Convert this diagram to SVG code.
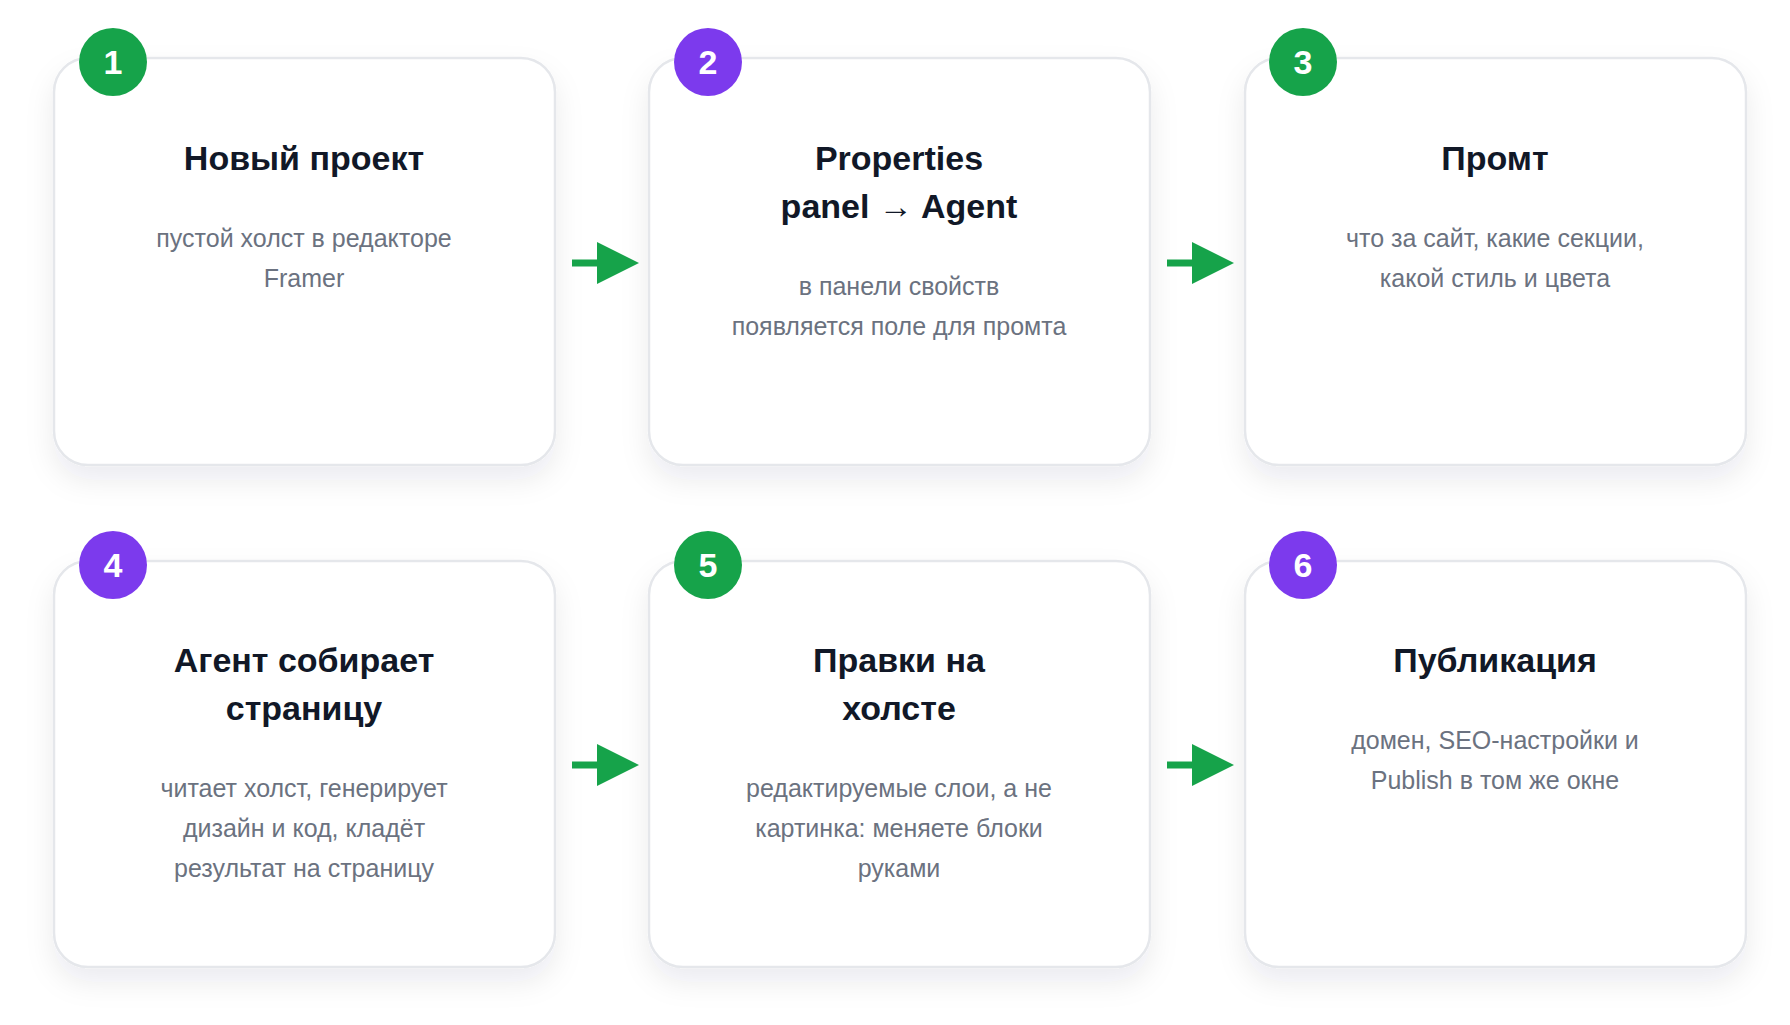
<svg xmlns="http://www.w3.org/2000/svg" width="1790" height="1025" viewBox="0 0 1790 1025">
<style>
.card{fill:#fff;stroke:#e5e7eb;stroke-width:2.5}
.t{font-family:"Liberation Sans",Arial,sans-serif;font-weight:bold;font-size:34px;fill:#111827;text-anchor:middle}
.d{font-family:"Liberation Sans",Arial,sans-serif;font-size:25px;fill:#6b7280;text-anchor:middle}
.n{font-family:"Liberation Sans",Arial,sans-serif;font-weight:bold;font-size:34px;fill:#fff;text-anchor:middle}
.g{fill:#16a34a}.p{fill:#7c3aed}
.ar{stroke:#16a34a;stroke-width:7;fill:none}
</style>
<defs>
<filter id="sh" x="-20%" y="-20%" width="140%" height="150%">
<feDropShadow dx="0" dy="14" stdDeviation="14" flood-color="#1f2937" flood-opacity="0.08"/>
</filter>
<marker id="ah" viewBox="0 0 10 10" refX="0" refY="5" markerWidth="6" markerHeight="6" markerUnits="strokeWidth" orient="auto"><path d="M0,0L10,5L0,10z" fill="#16a34a"/></marker>
</defs>
<rect width="1790" height="1025" fill="#fff"/>
<g id="n1"><rect class="card" filter="url(#sh)" x="54" y="58" width="501" height="407" rx="34"/><circle class="g" cx="113" cy="62" r="34"/><text class="n" x="113" y="74">1</text>
<text class="t" x="304" y="170">Новый проект</text>
<text class="d" x="304" y="247">пустой холст в редакторе</text><text class="d" x="304" y="287">Framer</text></g>
<g id="n2"><rect class="card" filter="url(#sh)" x="649" y="58" width="501" height="407" rx="34"/><circle class="p" cx="708" cy="62" r="34"/><text class="n" x="708" y="74">2</text>
<text class="t" x="899" y="170">Properties</text><text class="t" x="899" y="218">panel → Agent</text>
<text class="d" x="899" y="295">в панели свойств</text><text class="d" x="899" y="335">появляется поле для промта</text></g>
<g id="n3"><rect class="card" filter="url(#sh)" x="1245" y="58" width="501" height="407" rx="34"/><circle class="g" cx="1303" cy="62" r="34"/><text class="n" x="1303" y="74">3</text>
<text class="t" x="1495" y="170">Промт</text>
<text class="d" x="1495" y="247">что за сайт, какие секции,</text><text class="d" x="1495" y="287">какой стиль и цвета</text></g>
<g id="n4"><rect class="card" filter="url(#sh)" x="54" y="561" width="501" height="406" rx="34"/><circle class="p" cx="113" cy="565" r="34"/><text class="n" x="113" y="577">4</text>
<text class="t" x="304" y="672">Агент собирает</text><text class="t" x="304" y="720">страницу</text>
<text class="d" x="304" y="797">читает холст, генерирует</text><text class="d" x="304" y="837">дизайн и код, кладёт</text><text class="d" x="304" y="877">результат на страницу</text></g>
<g id="n5"><rect class="card" filter="url(#sh)" x="649" y="561" width="501" height="406" rx="34"/><circle class="g" cx="708" cy="565" r="34"/><text class="n" x="708" y="577">5</text>
<text class="t" x="899" y="672">Правки на</text><text class="t" x="899" y="720">холсте</text>
<text class="d" x="899" y="797">редактируемые слои, а не</text><text class="d" x="899" y="837">картинка: меняете блоки</text><text class="d" x="899" y="877">руками</text></g>
<g id="n6"><rect class="card" filter="url(#sh)" x="1245" y="561" width="501" height="406" rx="34"/><circle class="p" cx="1303" cy="565" r="34"/><text class="n" x="1303" y="577">6</text>
<text class="t" x="1495" y="672">Публикация</text>
<text class="d" x="1495" y="749">домен, SEO-настройки и</text><text class="d" x="1495" y="789">Publish в том же окне</text></g>
<g id="connectors">
<line class="ar" x1="572" y1="263" x2="597" y2="263" marker-end="url(#ah)"/>
<line class="ar" x1="1167" y1="263" x2="1192" y2="263" marker-end="url(#ah)"/>
<line class="ar" x1="572" y1="765" x2="597" y2="765" marker-end="url(#ah)"/>
<line class="ar" x1="1167" y1="765" x2="1192" y2="765" marker-end="url(#ah)"/>
</g>
</svg>
